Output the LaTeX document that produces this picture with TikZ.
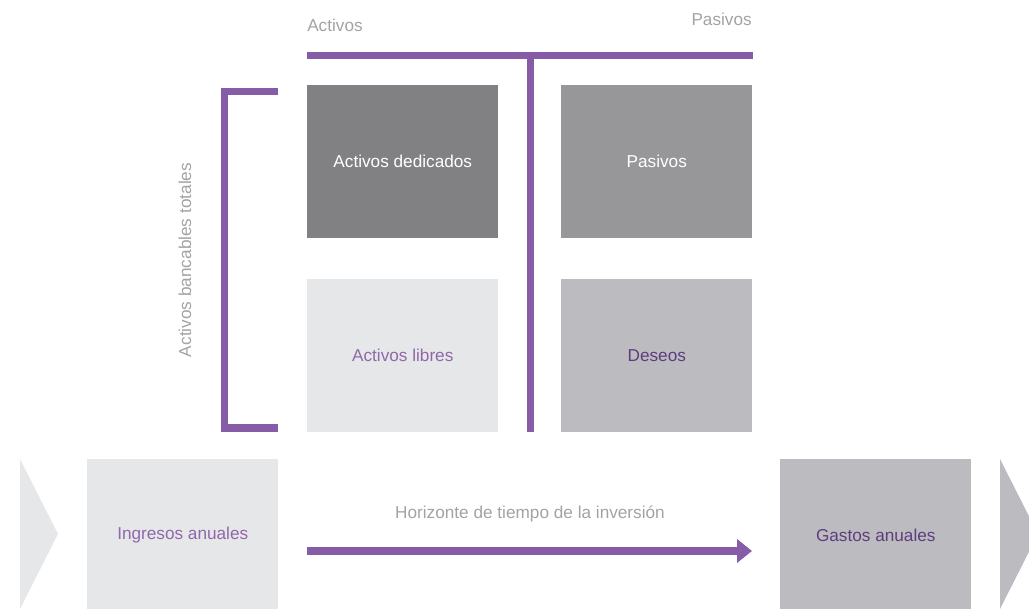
\documentclass[tikz,border=0pt]{standalone}
\usepackage{fontspec}
\setmainfont{Liberation Sans}
\usetikzlibrary{arrows.meta}
\definecolor{barpurple}{HTML}{855CA5}
\definecolor{lightpurple}{HTML}{9068AA}
\definecolor{darkpurple}{HTML}{5E3D7E}
\definecolor{labelgray}{HTML}{A3A3A5}
\definecolor{darkbox}{HTML}{818184}
\definecolor{midbox}{HTML}{97979A}
\definecolor{greybox}{HTML}{BCBCC0}
\definecolor{palebox}{HTML}{E6E7E9}
\tikzset{
  cell/.style={draw=none,inner sep=0pt,anchor=north west,
    minimum width=143.25pt,minimum height=114.75pt},
  bar/.style={color=barpurple,line width=5.5pt},
  lbl/.style={color=labelgray,inner sep=0pt}
}
\begin{document}
\begin{tikzpicture}[x=0.75pt,y=-0.75pt]
\fontsize{12.9}{15}\selectfont
\useasboundingbox (0,0) rectangle (1029,609);
\clip (0,0) rectangle (1029,609);
% balance
\node[cell,fill=darkbox,text=white] (dedicados) at (307,85) {Activos dedicados};
\node[cell,fill=midbox,text=white] (pasivos) at (561,85) {Pasivos};
\node[cell,fill=palebox,text=lightpurple] (libres) at (307,279) {Activos libres};
\node[cell,fill=greybox,text=darkpurple] (deseos) at (561,279) {Deseos};
\draw[bar] (307,55.5) -- (753,55.5);
\draw[bar] (530.5,55) -- (530.5,432);
\draw[bar,miter limit=10] (278,91.5) -- (224.5,91.5) -- (224.5,428) -- (278,428);
\node[lbl,anchor=west] (activos) at (307,25.5) {Activos};
\node[lbl,anchor=east] (pasivoslbl) at (752,19.5) {Pasivos};
\node[lbl,rotate=90] (bancables) at (185,260) {Activos bancables totales};
% flujos
\fill[palebox] (20,459) -- (58,534) -- (20,609) -- cycle;
\fill[greybox] (1000,459) -- (1038,534) -- (1000,609) -- cycle;
\node[cell,fill=palebox,text=lightpurple,minimum height=114pt] (ingresos) at (87,459) {Ingresos anuales};
\node[cell,fill=greybox,text=darkpurple,minimum height=114pt] (gastos) at (780,459) {Gastos anuales};
\coordinate (hstart) at (307,551);
\coordinate (hend) at (752,551);
\draw[bar,-{Triangle[length=11.25pt,width=17.25pt]}] (hstart) -- (hend);
\node[lbl] (horizonte) at (530,513.5) {Horizonte de tiempo de la inversión};
\end{tikzpicture}
\end{document}
